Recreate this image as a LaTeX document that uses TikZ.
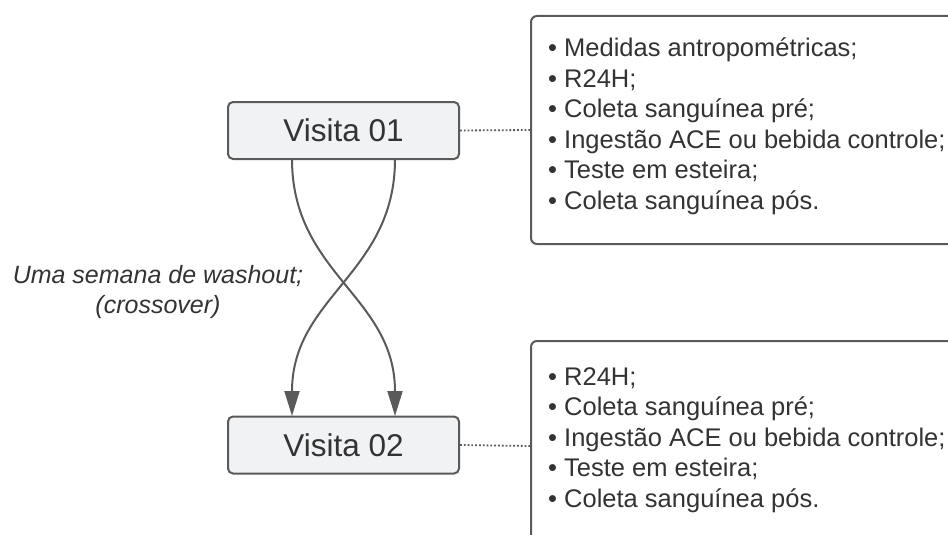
\documentclass[tikz,border=0pt]{standalone}
\usepackage{fontspec}
\setmainfont{Liberation Sans}
\usepackage{xcolor}
\usetikzlibrary{positioning,arrows.meta}
\definecolor{linha}{HTML}{5A5A5A}
\definecolor{fundo}{HTML}{F1F2F4}
\definecolor{texto}{HTML}{333333}

\begin{document}
\begin{tikzpicture}[x=1pt,y=-1pt,
  visita/.style={draw=linha,line width=2pt,fill=fundo,rounded corners=5pt,
    minimum width=231pt,minimum height=57pt,text=texto,font=\fontsize{31.5}{36}\selectfont},
  caixa/.style={draw=linha,line width=2pt,fill=white,rounded corners=6pt,anchor=north west},
  lista/.style={anchor=north west,align=left,inner sep=0pt,text=texto,
    font=\fontsize{25.5}{30.5}\selectfont},
  cruz/.style={draw=linha,line width=2pt,-{Triangle[width=15pt,length=25pt]}},
  pontos/.style={draw=linha,line width=1.8pt,dotted}]
  \useasboundingbox (0,0) rectangle (948,535);
  \clip (0,0) rectangle (948,535);
  \node[visita] (v1) at (343.5,130.5) {Visita 01};
  \node[visita] (v2) at (343.5,445) {Visita 02};
  \node[caixa,minimum width=440pt,minimum height=228pt] (c1) at (530,15) {};
  \node[caixa,minimum width=440pt,minimum height=210pt] (c2) at (530,340) {};
  \node[lista] (l1) at (548,38) {• Medidas antropométricas;\\• R24H;\\• Coleta sanguínea pré;\\• Ingestão ACE ou bebida controle;\\• Teste em esteira;\\• Coleta sanguínea pós.};
  \node[lista] (l2) at (548,367) {• R24H;\\• Coleta sanguínea pré;\\• Ingestão ACE ou bebida controle;\\• Teste em esteira;\\• Coleta sanguínea pós.};
  \node[align=center,text=texto,font=\fontsize{25}{30}\selectfont\itshape] (w) at (158,292) {Uma semana de washout;\\(crossover)};
  % setas cruzadas
  \coordinate (a1) at (292,159); \coordinate (b1) at (395,159);
  \coordinate (a2) at (292,416); \coordinate (b2) at (395,416);
  \draw[cruz] (a1) .. controls (292,274) and (395,296) .. (b2);
  \draw[cruz] (b1) .. controls (395,274) and (292,296) .. (a2);
  \draw[pontos] (v1.east) -- (c1.west);
  \draw[pontos] (v2.east) -- (c2.west);
\end{tikzpicture}
\end{document}
